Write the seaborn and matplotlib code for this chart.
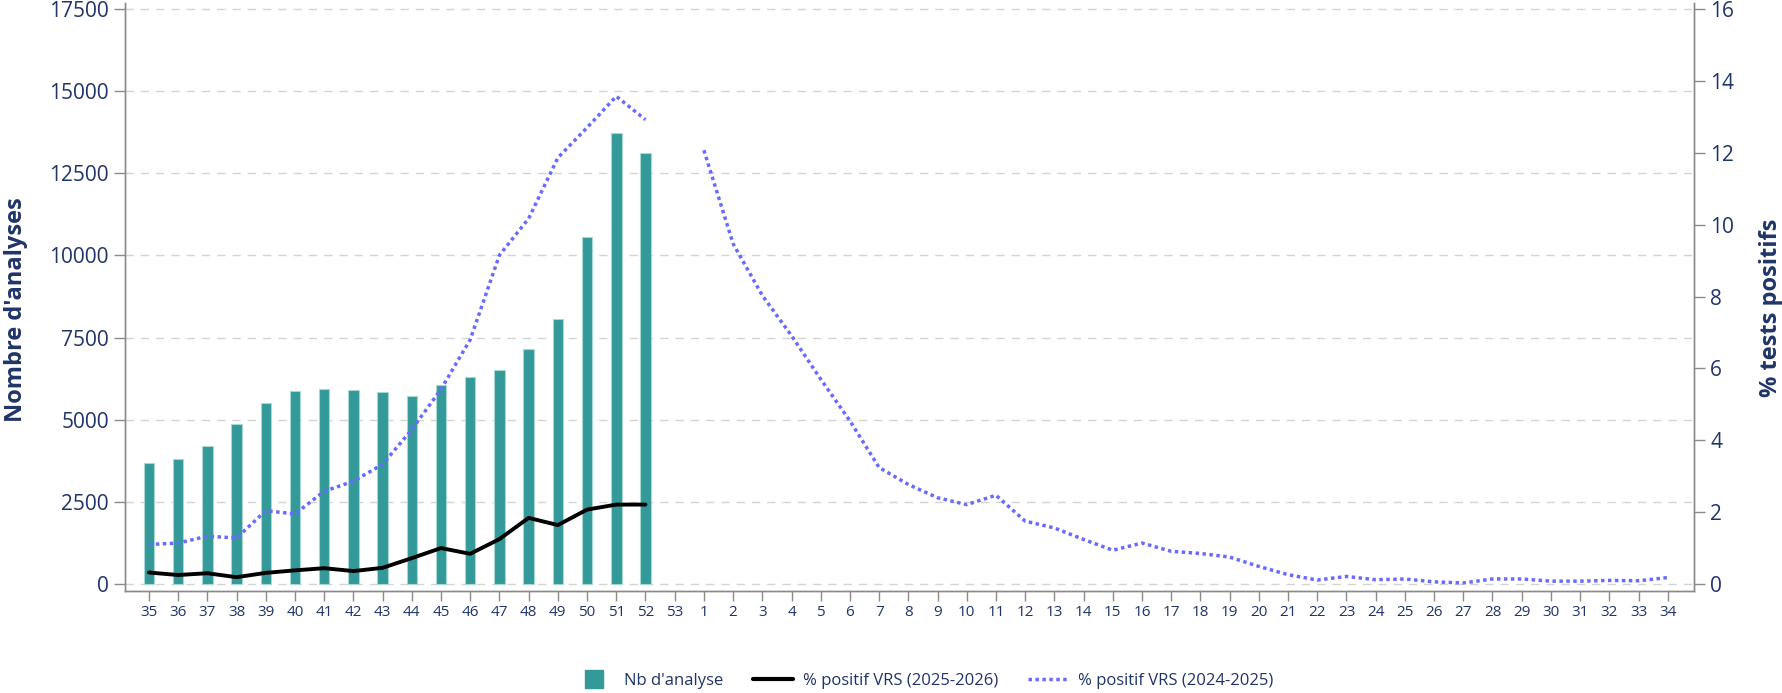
import numpy as np
import pandas as pd
import seaborn as sns
import matplotlib.pyplot as plt
from matplotlib.lines import Line2D

# semaines 35..53 puis 1..34
semaines = [str(s) for s in list(range(35, 54)) + list(range(1, 35))]

# Nb d'analyses (saison 2025-2026), semaines 35 a 52
nb_analyses = [3680, 3810, 4190, 4860, 5500, 5870, 5920, 5900, 5830, 5730,
               6070, 6310, 6520, 7160, 8080, 10570, 13740, 13110]

# % positif VRS 2025-2026
pos_2526 = [0.32, 0.25, 0.30, 0.19, 0.31, 0.38, 0.44, 0.36, 0.45, 0.72,
            1.00, 0.84, 1.25, 1.84, 1.64, 2.07, 2.21, 2.21]

# % positif VRS 2024-2025 : semaines 35..52 puis 1..34 (pas de semaine 53)
pos_2425_a = [1.10, 1.14, 1.33, 1.28, 2.04, 1.95, 2.58, 2.86, 3.33, 4.30,
              5.42, 6.80, 9.15, 10.17, 11.86, 12.70, 13.57, 12.92]
pos_2425_b = [12.07, 9.47, 8.03, 6.91, 5.70, 4.54, 3.24, 2.77, 2.40, 2.21,
              2.47, 1.75, 1.56, 1.24, 0.94, 1.14, 0.91, 0.85, 0.75, 0.49,
              0.26, 0.11, 0.21, 0.12, 0.14, 0.06, 0.03, 0.14, 0.14, 0.08,
              0.08, 0.10, 0.09, 0.18]

navy = '#1f3468'
teal = '#339999'
bleu = '#6a6aff'
gris = '#8a8a8a'

sns.set_style('white')
plt.rcParams['font.family'] = ['Open Sans', 'DejaVu Sans']

df_bar = pd.DataFrame({'semaine': semaines[:18], 'nb': nb_analyses})
df_a = pd.DataFrame({'x': np.arange(18), 'v': pos_2425_a})
df_b = pd.DataFrame({'x': np.arange(19, 53), 'v': pos_2425_b})
df_n = pd.DataFrame({'x': np.arange(18), 'v': pos_2526})

fig = plt.figure(figsize=(17.83, 6.93), dpi=100)
ax = fig.add_axes([0.0701, 0.1476, 0.8800, 0.8481])

sns.barplot(x='semaine', y='nb', data=df_bar, order=semaines, color=teal,
            width=0.36, saturation=1, edgecolor='#a8d8d4', linewidth=0.8, ax=ax)
ax.set_ylim(-204, 17683)
ax.set_yticks(np.arange(0, 17501, 2500))
ax.set_xlim(-0.82, 52.9)
ax.yaxis.grid(True, linestyle=(0, (6, 5)), color='#d4d4d4', linewidth=1)
ax.set_axisbelow(True)
ax.set_xlabel('')
ax.set_ylabel('')
ax.tick_params(axis='y', labelsize=15, labelcolor=navy, color=gris, length=8, width=1, left=True)
ax.tick_params(axis='x', labelsize=11, labelcolor=navy, color=gris, length=7, width=1, bottom=True)

ax2 = ax.twinx()
sns.lineplot(x='x', y='v', data=df_a, color=bleu, linewidth=2.5, linestyle=(0, (1, 1)), ax=ax2)
sns.lineplot(x='x', y='v', data=df_b, color=bleu, linewidth=2.5, linestyle=(0, (1, 1)), ax=ax2)
sns.lineplot(x='x', y='v', data=df_n, color='black', linewidth=2.8, ax=ax2)
ax2.set_ylim(-204 * 16 / 17500, 17683 * 16 / 17500)
ax2.set_yticks(np.arange(0, 17, 2))
ax2.set_xlim(-0.82, 52.9)
ax2.set_xlabel('')
ax2.set_ylabel('')
ax2.tick_params(axis='y', labelsize=15, labelcolor=navy, color=gris, length=8, width=1, right=True)

fig.text(0.009, 0.553, "Nombre d'analyses", rotation=90, ha='center', va='center',
         fontsize=17, fontweight='bold', color=navy)
fig.text(0.9933, 0.556, '% tests positifs', rotation=90, ha='center', va='center',
         fontsize=17, fontweight='bold', color=navy)

for a in (ax, ax2):
    a.spines['top'].set_visible(False)
    for s in ('left', 'bottom', 'right'):
        a.spines[s].set_color(gris)
        a.spines[s].set_linewidth(1)

handles = [Line2D([], [], marker='s', linestyle='none', markersize=13, color=teal),
           Line2D([], [], color='black', linewidth=3),
           Line2D([], [], color=bleu, linewidth=2.5, linestyle=(0, (1, 1)))]
labels = ["Nb d'analyse", '% positif VRS (2025-2026)', '% positif VRS (2024-2025)']
leg = fig.legend(handles, labels, loc='center', bbox_to_anchor=(0.518, 0.018), ncol=3,
                 frameon=False, fontsize=12, handlelength=2.4, columnspacing=1.8,
                 handletextpad=0.6)
for t in leg.get_texts():
    t.set_color(navy)

fig.savefig('out.png', dpi=100)
